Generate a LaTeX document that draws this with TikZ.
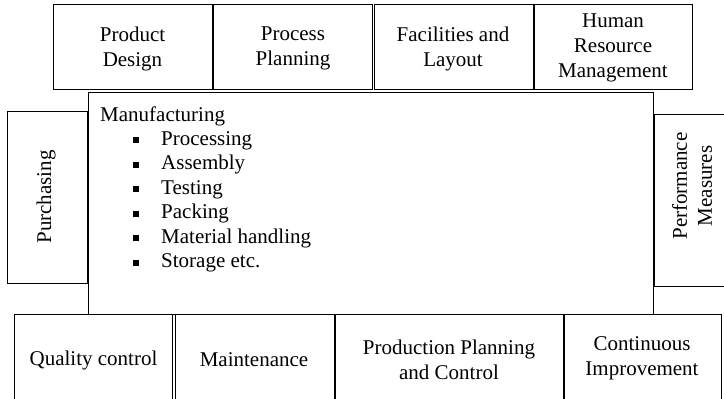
\documentclass[tikz,border=0pt]{standalone}
\usepackage{fontspec}
\setmainfont{Liberation Serif}
\newfontfamily\tmsfont{Liberation Serif}
\begin{document}
\begin{tikzpicture}[x=1pt,y=-1pt,
  box/.style={draw=black,line width=1pt},
  lbl/.style={inner sep=0pt,align=center,font=\tmsfont\fontsize{21}{25}\selectfont},
  vlbl/.style={lbl,rotate=90}]
\useasboundingbox (0,0) rectangle (724,399);
\newcommand{\mitem}[1]{\hspace*{33pt}\raisebox{2pt}{\rule{6pt}{6pt}}\hspace*{22pt}#1}

% top row
\draw[box] (53,4) rectangle (212.5,89);
\draw[box] (213.5,4) rectangle (372.5,89);
\draw[box] (374,4) rectangle (533,89);
\draw[box] (534,4) rectangle (692,89);
\node[lbl] (pd) at (132.5,48.5) {Product\\Design};
\node[lbl] (pp) at (293,48.5) {Process\\Planning};
\node[lbl] (fl) at (453,48.5) {Facilities and\\Layout};
\node[lbl] (hr) at (613,47.5) {Human\\Resource\\Management};

% central block
\draw[box] (88,92) rectangle (653,314);
\node[lbl,align=left,anchor=base west,
      font=\tmsfont\fontsize{21}{24.5}\selectfont] (mfg) at (100,121)
  {Manufacturing};
\node[lbl,align=left,anchor=north west,
      font=\tmsfont\fontsize{21}{24.5}\selectfont] (items) at (100,131)
  {\mitem{Processing}\\ \mitem{Assembly}\\ \mitem{Testing}\\
   \mitem{Packing}\\ \mitem{Material handling}\\ \mitem{Storage etc.}};

% side blocks
\draw[box] (7,111) rectangle (87,283);
\node[vlbl] (pur) at (46,197) {Purchasing};
\draw[box] (654,114) rectangle (726,286);
\node[vlbl] (pm) at (692,186) {Performance\\Measures};

% bottom row
\draw[box] (14,314.5) rectangle (172.5,401);
\draw[box] (175,314.5) rectangle (334,401);
\draw[box] (335.5,314.5) rectangle (563,401);
\draw[box] (564,314.5) rectangle (721,401);
\node[lbl] (qc) at (93.5,360) {Quality control};
\node[lbl] (mt) at (254,360) {Maintenance};
\node[lbl] (ppc) at (449,360) {Production Planning\\and Control};
\node[lbl] (ci) at (642,358.5) {Continuous\\Improvement};
\end{tikzpicture}
\end{document}
